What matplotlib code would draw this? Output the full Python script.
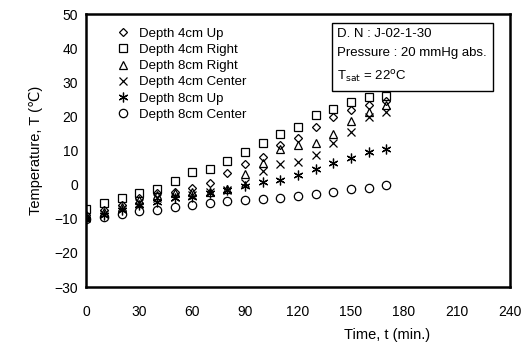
import matplotlib.pyplot as plt
import numpy as np

plt.rcParams['font.family'] = ['Liberation Sans', 'DejaVu Sans']

time = np.arange(0, 180, 10)

up_4cm = [-9, -7.5, -6, -4, -2.5, -2, -1, 0.5, 3.5, 6.0, 8.2, 11.5, 13.8, 17.0, 19.9, 21.8, 23.3, 24.5]
right_4cm = [-7, -5.5, -4, -2.5, -1.2, 1.0, 3.6, 4.7, 6.9, 9.7, 12.1, 14.8, 17.0, 20.4, 22.3, 24.3, 25.6, 25.9]
right_8cm = [-9.5, -8, -6.5, -4.5, -3, -2.5, -2, -2.2, -1.2, 3.2, 6.5, 10.5, 11.5, 12.3, 15.0, 18.7, 21.3, 23.5]
center_4cm = [-9.5, -8.5, -7, -5.5, -4, -3.5, -3, -2, -1.5, 0.5, 4.0, 6.0, 6.8, 8.7, 12.3, 15.5, 19.9, 21.3]
up_8cm = [-10, -9, -7.5, -6, -5, -4, -3.5, -2.5, -1.5, -0.5, 0.9, 1.4, 2.9, 4.5, 6.5, 7.7, 9.7, 10.6]
center_8cm = [-10, -9.5, -8.5, -7.8, -7.3, -6.5, -5.9, -5.4, -4.9, -4.5, -4.3, -3.9, -3.4, -2.6, -2.1, -1.4, -1.0, -0.1]

fig = plt.figure(figsize=(5.29, 3.45), dpi=100)
ax = fig.add_axes([0.163, 0.168, 0.801, 0.791])

style = dict(linestyle='none', markerfacecolor='none', markeredgecolor='black', markeredgewidth=0.9)
ax.plot(time, up_4cm, marker='D', markersize=4.5, label='Depth 4cm Up', **style)
ax.plot(time, right_4cm, marker='s', markersize=6, label='Depth 4cm Right', **style)
ax.plot(time, right_8cm, marker='^', markersize=6, label='Depth 8cm Right', **style)
ax.plot(time, center_4cm, marker='x', markersize=6, label='Depth 4cm Center', **style)
ax.plot(time, up_8cm, marker=(6, 2, 0), markersize=7, label='Depth 8cm Up', **style)
ax.plot(time, center_8cm, marker='o', markersize=6, label='Depth 8cm Center', **style)

ax.set_xlim(0, 240)
ax.set_ylim(-30, 50)
ax.set_xticks(range(0, 241, 30))
ax.set_yticks(range(-30, 51, 10))
ax.tick_params(length=0, labelsize=10, pad=13)
ax.tick_params(axis='y', pad=6)
for s in ax.spines.values():
    s.set_linewidth(1.8)

ax.set_ylabel('Temperature, T (℃)', fontsize=10.5, labelpad=8)
ax.set_xlabel('Time, t (min.)', fontsize=10.5)
ax.xaxis.set_label_coords(0.71, -0.15)

ax.legend(loc='upper left', bbox_to_anchor=(0.05, 0.98), frameon=False, fontsize=9.5,
          handletextpad=0.6, labelspacing=0.3, borderaxespad=0.2, handlelength=1.2)

ax.text(0.593, 0.95, 'D. N : J-02-1-30\nPressure : 20 mmHg abs.\nT$_{\\rm sat}$ = 22$^{\\rm o}$C',
        transform=ax.transAxes, fontsize=9.5, va='top', ha='left', linespacing=1.8,
        bbox=dict(boxstyle='square,pad=0.45', facecolor='white', edgecolor='black', linewidth=1))

fig.savefig('out.png', dpi=100)
